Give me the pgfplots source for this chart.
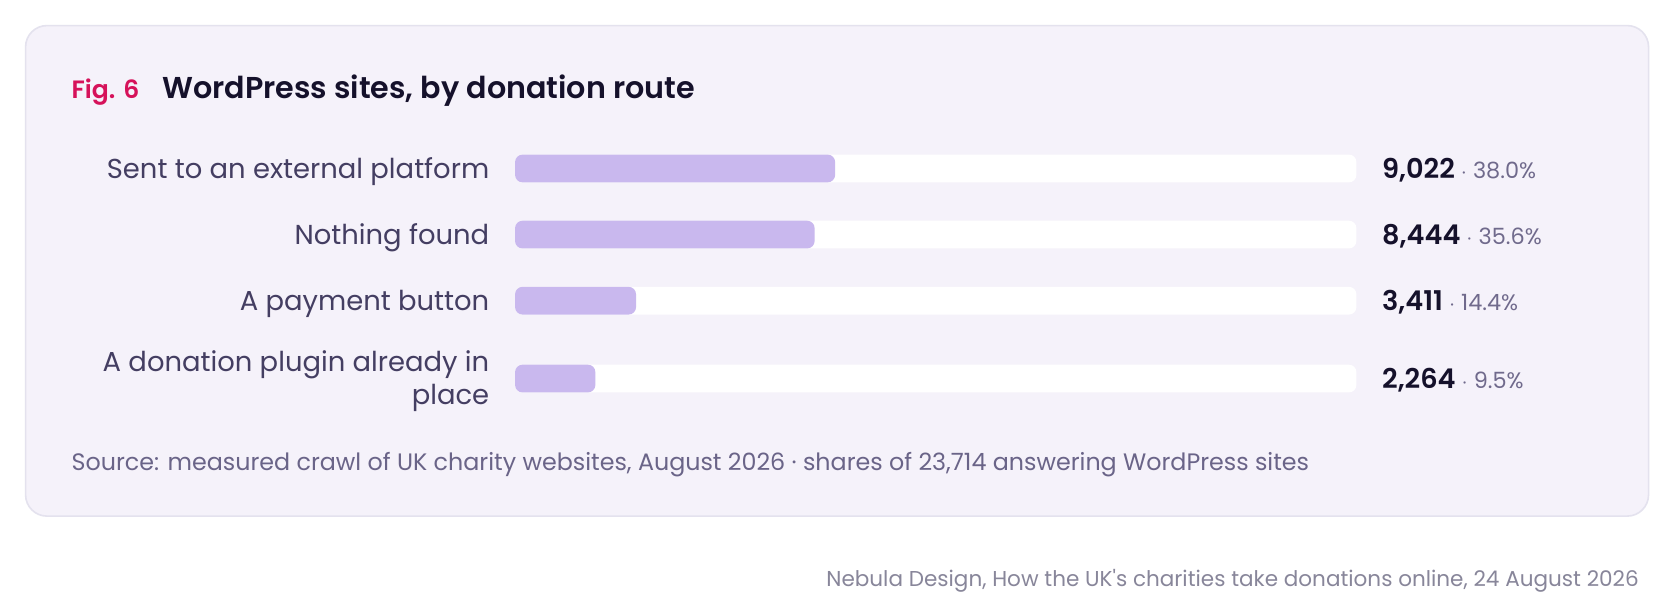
\documentclass[border=0pt]{standalone}
\usepackage{pgfplots}
\pgfplotsset{compat=1.18}
\usepackage{fontspec}
\setmainfont{Poppins}
\newfontfamily\semib{Poppins SemiBold}
\definecolor{card}{HTML}{F5F2FA}
\definecolor{cardborder}{HTML}{E4E2EE}
\definecolor{barfill}{HTML}{C9B8EE}
\definecolor{figred}{HTML}{D6125A}
\definecolor{titlecol}{HTML}{15112B}
\definecolor{labelcol}{HTML}{443E62}
\definecolor{pctcol}{HTML}{706A8C}
\definecolor{srccol}{HTML}{6A6488}
\definecolor{footcol}{HTML}{88869A}
\begin{document}
\begin{tikzpicture}[x=1pt,y=1pt]
\path[use as bounding box] (0,0) rectangle (1568,-577);
\fill[white] (0,0) rectangle (1568,-577);
\draw[cardborder, fill=card, line width=1.5pt, rounded corners=20pt] (24,-24) rectangle (1546,-484);
\node[anchor=base west, inner sep=0, text=figred, font=\semib\fontsize{23.5}{28}\selectfont] at (67,-92) {Fig. 6};
\node[anchor=base west, inner sep=0, text=titlecol, font=\semib\fontsize{28.3}{33}\selectfont] at (152,-92) {WordPress sites, by donation route};
\begin{axis}[
  scale only axis, width=789pt, height=250pt,
  at={(483pt,-380pt)}, anchor=south west,
  xmin=0, xmax=23714, ymin=-380, ymax=-130,
  hide axis, clip=false,
]
\addplot[xbar, bar shift=0pt, bar width=26pt, fill=white, draw=none, rounded corners=7pt]
  coordinates {(23714,-158) (23714,-220) (23714,-282) (23714,-355)};
\addplot[xbar, bar shift=0pt, bar width=26pt, fill=barfill, draw=none, rounded corners=7pt]
  coordinates {(9022,-158) (8444,-220) (3411,-282) (2264,-355)};
\end{axis}
\begin{scope}[every node/.style={inner sep=0, text=labelcol, font=\fontsize{25.7}{30}\selectfont}]
\node[anchor=base east] at (459,-167) {Sent to an external platform};
\node[anchor=base east] at (459,-229) {Nothing found};
\node[anchor=base east] at (459,-291) {A payment button};
\node[anchor=base east] at (459,-348) {A donation plugin already in};
\node[anchor=base east] at (459,-379) {place};
\end{scope}
\begin{scope}[every node/.style={inner sep=0, anchor=base west}]
\node at (1296,-167) {\textcolor{titlecol}{\semib\fontsize{25.5}{30}\selectfont 9,022}\textcolor{pctcol}{\fontsize{21}{24}\selectfont\ $\cdot$ 38.0\%}};
\node at (1296,-229) {\textcolor{titlecol}{\semib\fontsize{25.5}{30}\selectfont 8,444}\textcolor{pctcol}{\fontsize{21}{24}\selectfont\ $\cdot$ 35.6\%}};
\node at (1296,-291) {\textcolor{titlecol}{\semib\fontsize{25.5}{30}\selectfont 3,411}\textcolor{pctcol}{\fontsize{21}{24}\selectfont\ $\cdot$ 14.4\%}};
\node at (1296,-364) {\textcolor{titlecol}{\semib\fontsize{25.5}{30}\selectfont 2,264}\textcolor{pctcol}{\fontsize{21}{24}\selectfont\ $\cdot$ 9.5\%}};
\end{scope}
\node[anchor=base west, inner sep=0, text=srccol, font=\fontsize{22.3}{26}\selectfont] at (67,-441) {Source: measured crawl of UK charity websites, August 2026 · shares of 23,714 answering WordPress sites};
\node[anchor=base east, inner sep=0, text=footcol, font=\fontsize{20.2}{24}\selectfont] at (1537,-550) {Nebula Design, How the UK\textquotesingle s charities take donations online, 24 August 2026};
\end{tikzpicture}
\end{document}
